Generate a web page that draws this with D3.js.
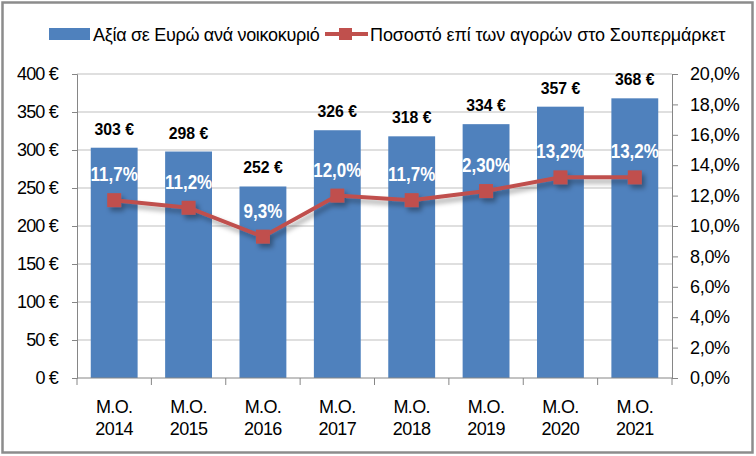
<!DOCTYPE html>
<html>
<head>
<meta charset="utf-8">
<script src="https://cdn.jsdelivr.net/npm/d3@7"></script>
<style>
  body { margin: 0; background: #fff; }
  text { font-family: Arial, "Liberation Sans", sans-serif; }
</style>
</head>
<body>
<div id="chart"></div>
<script>
// chart data
const years = ["2014", "2015", "2016", "2017", "2018", "2019", "2020", "2021"];
const euroValues = [303, 298, 252, 326, 318, 334, 357, 368];
const pctValues = [11.7, 11.2, 9.3, 12.0, 11.7, 12.3, 13.2, 13.2];
const pctLabels = ["11,7%", "11,2%", "9,3%", "12,0%", "11,7%", "2,30%", "13,2%", "13,2%"];
const euroTicks = [0, 50, 100, 150, 200, 250, 300, 350, 400];
const pctTicks = [0, 2, 4, 6, 8, 10, 12, 14, 16, 18, 20];
const barName = "Αξία σε Ευρώ ανά νοικοκυριό";
const lineName = "Ποσοστό επί των αγορών στο Σουπερμάρκετ";

const W = 756, H = 456;
const margin = { top: 74, right: 84, bottom: 78, left: 77 },
    width = W - margin.left - margin.right,
    height = H - margin.top - margin.bottom;

const blue = "#4F81BD", red = "#C0504D";

const root = d3.select("#chart").append("svg")
    .attr("width", W)
    .attr("height", H);

// outer frame
root.append("rect")
    .attr("x", 2.5).attr("y", 2.5)
    .attr("width", W - 6).attr("height", H - 6)
    .attr("fill", "#fff")
    .attr("stroke", "#8c8c8c")
    .attr("stroke-width", 2.5);

const defs = root.append("defs");
const shadow = defs.append("filter").attr("id", "shadow")
    .attr("x", "-20%").attr("y", "-50%").attr("width", "140%").attr("height", "200%");
shadow.append("feDropShadow")
    .attr("dx", 3).attr("dy", 4).attr("stdDeviation", 2.5)
    .attr("flood-color", "#000").attr("flood-opacity", 0.35);

const svg = root.append("g")
    .attr("transform", `translate(${margin.left},${margin.top})`);

// scales
const x = d3.scaleBand()
    .domain(years)
    .range([0, width])
    .paddingInner(0.37)
    .paddingOuter(0.185);

const y = d3.scaleLinear().domain([0, 400]).range([height, 0]);
const y2 = d3.scaleLinear().domain([0, 20]).range([height, 0]);

const cx = i => x(years[i]) + x.bandwidth() / 2;

// gridlines
svg.append("g")
    .selectAll("line")
    .data(euroTicks.slice(1))
    .enter().append("line")
    .attr("x1", 0).attr("x2", width)
    .attr("y1", d => y(d)).attr("y2", d => y(d))
    .attr("stroke", "#bfbfbf")
    .attr("stroke-width", 1);

// left axis
const yAxis = svg.append("g")
    .call(d3.axisLeft(y).tickValues(euroTicks).tickSize(5).tickPadding(14)
        .tickFormat(d => d + " €"));
yAxis.select(".domain").attr("stroke", "#868686");
yAxis.selectAll(".tick line").attr("stroke", "#868686");
yAxis.selectAll("text").attr("font-size", 18).attr("fill", "#000")
    .attr("font-family", "Arial, 'Liberation Sans', sans-serif")
    .attr("letter-spacing", -0.8);

// right axis
const y2Axis = svg.append("g")
    .attr("transform", `translate(${width},0)`)
    .call(d3.axisRight(y2).tickValues(pctTicks).tickSize(6).tickPadding(12)
        .tickFormat(d => d.toFixed(1).replace(".", ",") + "%"));
y2Axis.select(".domain").attr("stroke", "#868686");
y2Axis.selectAll(".tick line").attr("stroke", "#868686");
y2Axis.selectAll("text").attr("font-size", 18).attr("fill", "#000")
    .attr("font-family", "Arial, 'Liberation Sans', sans-serif")
    .attr("letter-spacing", -0.3);

// bars
svg.selectAll(".bar")
    .data(euroValues)
    .enter().append("rect")
    .attr("class", "bar")
    .attr("fill", blue)
    .attr("x", (d, i) => x(years[i]))
    .attr("width", x.bandwidth())
    .attr("y", d => y(d))
    .attr("height", d => height - y(d));

// x axis
const step = x.step();
const xAxis = svg.append("g")
    .attr("transform", `translate(0,${height})`);
xAxis.append("line")
    .attr("x1", 0).attr("x2", width)
    .attr("stroke", "#868686");
xAxis.selectAll(".xtick")
    .data(d3.range(years.length + 1))
    .enter().append("line")
    .attr("x1", i => i * step).attr("x2", i => i * step)
    .attr("y1", 0).attr("y2", 7)
    .attr("stroke", "#868686");
const xLabels = xAxis.selectAll(".xlabel")
    .data(years)
    .enter().append("text")
    .attr("text-anchor", "middle")
    .attr("font-size", 18)
    .attr("letter-spacing", -0.6);
xLabels.append("tspan").attr("x", (d, i) => cx(i)).attr("y", 35).text("M.O.");
xLabels.append("tspan").attr("x", (d, i) => cx(i)).attr("y", 57).text(d => d);

// bar value labels (condensed bold)
svg.selectAll(".val")
    .data(euroValues)
    .enter().append("text")
    .attr("text-anchor", "middle")
    .attr("font-weight", "bold")
    .attr("font-size", 17)
    .attr("transform", (d, i) => `translate(${cx(i)},${y(d) - 13}) scale(0.93,1)`)
    .text(d => d + " €");

// line
const line = d3.line()
    .x((d, i) => cx(i))
    .y(d => y2(d));

const lineG = svg.append("g").attr("filter", "url(#shadow)");
lineG.append("path")
    .datum(pctValues)
    .attr("fill", "none")
    .attr("stroke", red)
    .attr("stroke-width", 4)
    .attr("d", line);
lineG.selectAll(".marker")
    .data(pctValues)
    .enter().append("rect")
    .attr("fill", red)
    .attr("x", (d, i) => cx(i) - 7)
    .attr("y", d => y2(d) - 7)
    .attr("width", 14)
    .attr("height", 14);

// percentage labels (condensed bold)
svg.selectAll(".pct")
    .data(pctValues)
    .enter().append("text")
    .attr("text-anchor", "middle")
    .attr("font-weight", "bold")
    .attr("font-size", 20)
    .attr("fill", "#fff")
    .attr("transform", (d, i) => `translate(${cx(i)},${y2(d) - 19}) scale(0.85,1)`)
    .text((d, i) => pctLabels[i]);

// legend
const legend = root.append("g").attr("transform", "translate(0,34)");
legend.append("rect")
    .attr("x", 49).attr("y", -6)
    .attr("width", 41).attr("height", 12)
    .attr("fill", blue);
legend.append("text")
    .attr("x", 93).attr("y", 6.5)
    .attr("font-size", 18)
    .attr("letter-spacing", -0.3)
    .text(barName);
legend.append("line")
    .attr("x1", 325).attr("x2", 368)
    .attr("stroke", red).attr("stroke-width", 4);
legend.append("rect")
    .attr("x", 339).attr("y", -6)
    .attr("width", 13).attr("height", 12)
    .attr("fill", red);
legend.append("text")
    .attr("x", 370).attr("y", 6.5)
    .attr("font-size", 18)
    .attr("letter-spacing", -0.1)
    .text(lineName);
</script>
</body>
</html>
